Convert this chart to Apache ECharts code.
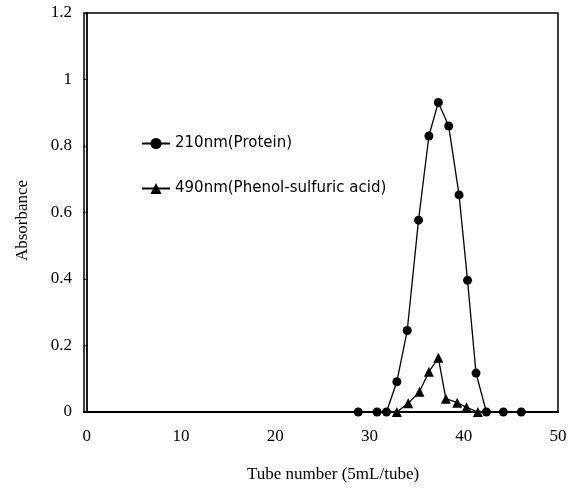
<!DOCTYPE html>
<html>
<head>
<meta charset="utf-8">
<script src="https://cdn.jsdelivr.net/npm/echarts@6/dist/echarts.min.js"></script>
<style>
  html, body { margin: 0; padding: 0; background: #fff; }
  #chart { width: 573px; height: 488px; }
</style>
</head>
<body>
<div id="chart"></div>
<script>
// 210nm (protein) readings
var proteinTube = [28.8, 30.8, 31.8, 32.9, 34.0, 35.2, 36.3, 37.3, 38.4, 39.5, 40.4, 41.3, 42.4, 44.2, 46.1];
var proteinAbs = [0, 0, 0, 0.091, 0.245, 0.577, 0.83, 0.931, 0.86, 0.653, 0.396, 0.117, 0, 0, 0];

// 490nm (phenol-sulfuric acid) readings
var sugarTube = [32.9, 34.1, 35.3, 36.3, 37.3, 38.1, 39.3, 40.3, 41.5];
var sugarAbs = [0, 0.026, 0.061, 0.121, 0.163, 0.04, 0.028, 0.014, 0];

var xTicks = [0, 10, 20, 30, 40, 50];

function pairs(xs, ys) {
  return xs.map(function (x, i) { return [x, ys[i]]; });
}

var chart = echarts.init(document.getElementById("chart"));
var serif = "Liberation Serif, Times New Roman, serif";

chart.setOption({
  animation: false,
  grid: {
    left: 84,
    right: 15,
    top: 13,
    bottom: 76,
    show: true,
    borderColor: "#000",
    borderWidth: 1.5
  },
  legend: {
    orient: "vertical",
    left: 141,
    top: 136,
    padding: 0,
    itemWidth: 28,
    itemHeight: 14,
    itemGap: 30,
    textStyle: {
      fontFamily: "DejaVu Sans",
      fontSize: 15,
      color: "#000"
    },
    data: ["210nm(Protein)", "490nm(Phenol-sulfuric acid)"]
  },
  xAxis: {
    type: "value",
    min: -0.3,
    max: 50,
    name: "Tube number (5mL/tube)",
    nameLocation: "middle",
    nameGap: 54,
    nameTextStyle: {
      fontFamily: serif,
      fontSize: 17,
      color: "#000",
      padding: [0, 0, 0, 24]
    },
    axisLine: { lineStyle: { color: "#000", width: 1.8 } },
    axisTick: { show: false },
    splitLine: { show: false },
    axisLabel: {
      customValues: xTicks,
      margin: 16,
      fontFamily: serif,
      fontSize: 17,
      color: "#000"
    }
  },
  yAxis: {
    type: "value",
    min: 0,
    max: 1.2,
    interval: 0.2,
    name: "Absorbance",
    nameLocation: "middle",
    nameGap: 53,
    nameTextStyle: {
      fontFamily: serif,
      fontSize: 17,
      color: "#000",
      padding: [0, 16, 0, 0]
    },
    axisLine: { show: true, lineStyle: { color: "#000", width: 1.8 } },
    axisTick: { show: true, length: 3, lineStyle: { color: "#000" } },
    splitLine: { show: false },
    axisLabel: {
      margin: 12,
      fontFamily: serif,
      fontSize: 17,
      color: "#000"
    }
  },
  series: [
    {
      name: "210nm(Protein)",
      type: "line",
      symbol: "circle",
      symbolSize: 9,
      itemStyle: { color: "#000" },
      lineStyle: { color: "#000", width: 1.3 },
      data: pairs(proteinTube, proteinAbs)
    },
    {
      name: "490nm(Phenol-sulfuric acid)",
      type: "line",
      symbol: "triangle",
      symbolSize: 10,
      itemStyle: { color: "#000" },
      lineStyle: { color: "#000", width: 1.3 },
      data: pairs(sugarTube, sugarAbs)
    }
  ]
});
</script>
</body>
</html>
